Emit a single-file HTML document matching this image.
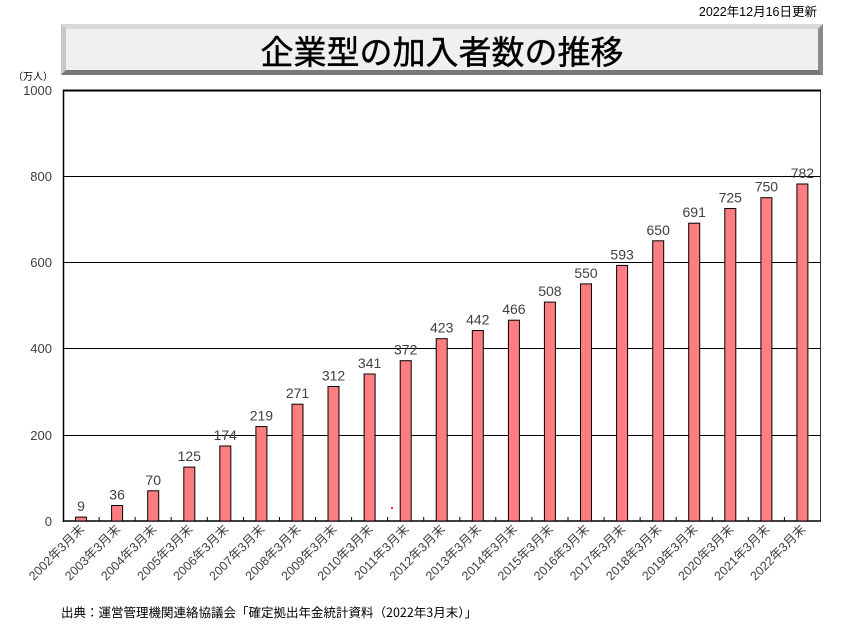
<!DOCTYPE html>
<html><head><meta charset="utf-8"><style>
body{margin:0;background:#fff;width:855px;height:633px;overflow:hidden}
svg{display:block}
</style></head><body>
<svg width="855" height="633" xmlns="http://www.w3.org/2000/svg" font-family="Liberation Sans, Noto Sans CJK JP, sans-serif">
<text x="817" y="16" font-size="12.5" text-anchor="end" fill="#000">2022年12月16日更新</text>
<rect x="61" y="24" width="762" height="51" fill="#999"/>
<polygon points="61,24 823,24 818,29 66,29" fill="#d8d8d8"/>
<polygon points="61,24 66,29 66,70 61,75" fill="#c8c8c8"/>
<polygon points="823,24 818,29 818,70 823,75" fill="#8a8a8a"/>
<polygon points="61,75 66,70 818,70 823,75" fill="#777"/>
<rect x="66" y="29" width="752" height="41" fill="#f0f0f0"/>
<text x="442" y="64" font-size="33" text-anchor="middle" fill="#000" font-family="Noto Sans CJK JP, sans-serif" stroke="#000" stroke-width="0.4">企業型の加入者数の推移</text>
<text x="33" y="80" font-size="10" text-anchor="middle" fill="#000">（万人）</text>
<g stroke="#000" stroke-width="1">
<line x1="63" y1="176.5" x2="821" y2="176.5"/>
<line x1="63" y1="262.5" x2="821" y2="262.5"/>
<line x1="63" y1="348.5" x2="821" y2="348.5"/>
<line x1="63" y1="435.5" x2="821" y2="435.5"/>
</g>
<rect x="63.5" y="90" width="757" height="431" fill="none" stroke="#333" stroke-width="1"/>
<line x1="63" y1="90.5" x2="821" y2="90.5" stroke="#000" stroke-width="2"/>
<line x1="63.5" y1="90" x2="63.5" y2="522" stroke="#000" stroke-width="1.5"/>
<line x1="63" y1="521" x2="821" y2="521" stroke="#000" stroke-width="1.5"/>
<g font-size="13" fill="#404040" text-anchor="end">
<text x="52" y="95">1000</text><text x="52" y="181">800</text><text x="52" y="267">600</text><text x="52" y="353">400</text><text x="52" y="440">200</text><text x="52" y="526">0</text>
</g>
<g stroke="#000">
<line x1="99.1" y1="517" x2="99.1" y2="521"/><line x1="135.1" y1="517" x2="135.1" y2="521"/><line x1="171.2" y1="517" x2="171.2" y2="521"/><line x1="207.3" y1="517" x2="207.3" y2="521"/><line x1="243.4" y1="517" x2="243.4" y2="521"/><line x1="279.4" y1="517" x2="279.4" y2="521"/><line x1="315.5" y1="517" x2="315.5" y2="521"/><line x1="351.6" y1="517" x2="351.6" y2="521"/><line x1="387.6" y1="517" x2="387.6" y2="521"/><line x1="423.7" y1="517" x2="423.7" y2="521"/><line x1="459.8" y1="517" x2="459.8" y2="521"/><line x1="495.8" y1="517" x2="495.8" y2="521"/><line x1="531.9" y1="517" x2="531.9" y2="521"/><line x1="568" y1="517" x2="568" y2="521"/><line x1="604.1" y1="517" x2="604.1" y2="521"/><line x1="640.1" y1="517" x2="640.1" y2="521"/><line x1="676.2" y1="517" x2="676.2" y2="521"/><line x1="712.3" y1="517" x2="712.3" y2="521"/><line x1="748.3" y1="517" x2="748.3" y2="521"/><line x1="784.4" y1="517" x2="784.4" y2="521"/>
</g>
<g fill="#FF7C80" stroke="#000" stroke-width="1">
<rect x="75.5" y="517.1" width="11" height="3.9"/>
<rect x="111.6" y="505.5" width="11" height="15.5"/>
<rect x="147.7" y="490.8" width="11" height="30.2"/>
<rect x="183.8" y="467.1" width="11" height="53.9"/>
<rect x="219.8" y="446" width="11" height="75"/>
<rect x="255.9" y="426.6" width="11" height="94.4"/>
<rect x="292" y="404.2" width="11" height="116.8"/>
<rect x="328" y="386.5" width="11" height="134.5"/>
<rect x="364.1" y="374" width="11" height="147"/>
<rect x="400.2" y="360.7" width="11" height="160.3"/>
<rect x="436.2" y="338.7" width="11" height="182.3"/>
<rect x="472.3" y="330.5" width="11" height="190.5"/>
<rect x="508.4" y="320.2" width="11" height="200.8"/>
<rect x="544.4" y="302.1" width="11" height="218.9"/>
<rect x="580.5" y="283.9" width="11" height="237.1"/>
<rect x="616.6" y="265.4" width="11" height="255.6"/>
<rect x="652.7" y="240.8" width="11" height="280.2"/>
<rect x="688.7" y="223.2" width="11" height="297.8"/>
<rect x="724.8" y="208.5" width="11" height="312.5"/>
<rect x="760.9" y="197.7" width="11" height="323.3"/>
<rect x="796.9" y="184" width="11" height="337"/>
</g>
<g font-size="14" fill="#404040" text-anchor="middle">
<text x="81" y="511">9</text>
<text x="117.1" y="499.5">36</text>
<text x="153.2" y="484.8">70</text>
<text x="189.3" y="461.1">125</text>
<text x="225.3" y="440">174</text>
<text x="261.4" y="420.6">219</text>
<text x="297.5" y="398.2">271</text>
<text x="333.5" y="380.5">312</text>
<text x="369.6" y="368">341</text>
<text x="405.7" y="354.7">372</text>
<text x="441.7" y="332.7">423</text>
<text x="477.8" y="324.5">442</text>
<text x="513.9" y="314.2">466</text>
<text x="549.9" y="296.1">508</text>
<text x="586" y="277.9">550</text>
<text x="622.1" y="259.4">593</text>
<text x="658.2" y="234.8">650</text>
<text x="694.2" y="217.2">691</text>
<text x="730.3" y="202.5">725</text>
<text x="766.4" y="191.7">750</text>
<text x="802.4" y="178">782</text>
</g>
<g font-size="12.5" fill="#404040" text-anchor="end">
<text transform="translate(85,530) rotate(-45)">2002年3月末</text>
<text transform="translate(121.1,530) rotate(-45)">2003年3月末</text>
<text transform="translate(157.2,530) rotate(-45)">2004年3月末</text>
<text transform="translate(193.3,530) rotate(-45)">2005年3月末</text>
<text transform="translate(229.3,530) rotate(-45)">2006年3月末</text>
<text transform="translate(265.4,530) rotate(-45)">2007年3月末</text>
<text transform="translate(301.5,530) rotate(-45)">2008年3月末</text>
<text transform="translate(337.5,530) rotate(-45)">2009年3月末</text>
<text transform="translate(373.6,530) rotate(-45)">2010年3月末</text>
<text transform="translate(409.7,530) rotate(-45)">2011年3月末</text>
<text transform="translate(445.7,530) rotate(-45)">2012年3月末</text>
<text transform="translate(481.8,530) rotate(-45)">2013年3月末</text>
<text transform="translate(517.9,530) rotate(-45)">2014年3月末</text>
<text transform="translate(553.9,530) rotate(-45)">2015年3月末</text>
<text transform="translate(590,530) rotate(-45)">2016年3月末</text>
<text transform="translate(626.1,530) rotate(-45)">2017年3月末</text>
<text transform="translate(662.2,530) rotate(-45)">2018年3月末</text>
<text transform="translate(698.2,530) rotate(-45)">2019年3月末</text>
<text transform="translate(734.3,530) rotate(-45)">2020年3月末</text>
<text transform="translate(770.4,530) rotate(-45)">2021年3月末</text>
<text transform="translate(806.4,530) rotate(-45)">2022年3月末</text>
</g>
<circle cx="392" cy="508" r="1" fill="#f00"/>
<text x="61" y="617" font-size="12.5" fill="#000" font-family="Noto Sans CJK JP, sans-serif">出典：運営管理機関連絡協議会「確定拠出年金統計資料（2022年3月末）」</text>
</svg>
</body></html>
